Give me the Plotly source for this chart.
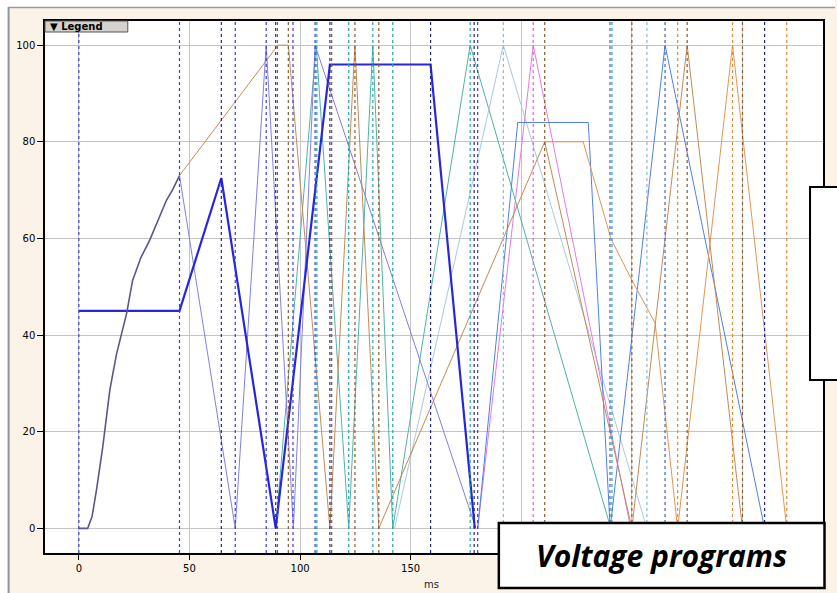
import plotly.graph_objects as go

# ---------------- data ----------------
# measured ramp (0..45.5 ms)
ramp_ms = [0, 4, 6, 8, 10.8, 14, 17, 21.6, 24.3, 28, 32, 36, 39.6, 42.3, 45.5]
ramp_v = [0, 0, 2.5, 8, 16.8, 28.6, 36, 44.5, 51.3, 56, 59.6, 64, 67.9, 70, 73]

# thick blue program
blue_thick_ms = [0, 45.5, 64.4, 89, 113.5, 159, 179]
blue_thick_v = [45, 45, 72.5, 0, 96, 96, 0]

# thin violet-blue program
violet_ms = [45.5, 70.7, 84.7, 97, 106.8, 179.5]
violet_v = [73, 0, 100, 0, 100, 0]

# tan / brown program
brown_ms = [45.5, 90, 94.7, 113.5, 124.8, 135.6, 210.6, 250, 275, 300]
brown_v = [73, 100, 100, 0, 100, 0, 80, 0, 100, 0]

# orange program
orange_ms = [210.6, 228, 240.5, 249.5, 260.5, 270.7, 295.5, 320]
orange_v = [80, 80, 60, 51.8, 42.5, 0, 100, 0]

# teal program
teal_ms = [89, 107.3, 122, 132.9, 141.9, 176.9, 240.5]
teal_v = [0, 100, 0, 100, 0, 100, 0]

# pale blue program
pale_ms = [142.7, 191.9, 256.8]
pale_v = [0, 100, 0]

# magenta program
magenta_ms = [180.3, 205.4, 249.5]
magenta_v = [0, 100, 0]

# medium blue program
mblue_ms = [180.3, 198.4, 230.3, 240.2, 265, 310]
mblue_v = [0, 84, 84, 0, 100, 0]

# dashed event markers (ms) and the program each belongs to
marker_ms = [0, 45.5, 64.4, 70.7, 84.7, 89, 89.8, 94.7, 96.8, 106.8, 107.6,
             113.5, 114.3, 122, 124.8, 132.9, 135.6, 141.9, 159, 176.9,
             178.7, 180.3, 191.9, 205.4, 210.6, 240.1, 241.0, 250, 256.8,
             265, 270.7, 275, 295.5, 300, 310, 320]
marker_prog = ["blue", "blue", "navy", "blue", "blue", "navy", "brown", "brown",
               "blue", "blue", "teal", "navy", "brown", "teal", "brown", "teal",
               "brown", "teal", "navy", "teal", "navy", "blue", "pale", "magenta",
               "brown", "mblue", "teal", "brown", "pale", "mblue", "orange",
               "brown", "orange", "brown", "navy", "orange"]

x_ticks = [0, 50, 100, 150, 200, 250, 300]
x_ticktext = ["0", "50", "100", "150", "", "", ""]  # the rest sit under the caption box
y_ticks = [0, 20, 40, 60, 80, 100]

# ---------------- styles ----------------
marker_colors = {
    "blue": "#3C3CD8", "navy": "#23238F", "brown": "#8A5A30", "teal": "#2A9FB0",
    "pale": "#8DB6D6", "magenta": "#E060D8", "mblue": "#3F63C8", "orange": "#E08A3A",
}

fig = go.Figure()

def add_line(xs, ys, color, width=1.0):
    fig.add_trace(go.Scatter(x=xs, y=ys, mode="lines",
                             line=dict(color=color, width=width),
                             hoverinfo="skip", showlegend=False))

add_line(teal_ms, teal_v, "#4DB3A8")
add_line(pale_ms, pale_v, "#A9C9E2")
add_line(magenta_ms, magenta_v, "#E27BE6")
add_line(mblue_ms, mblue_v, "#4F7FE6")
add_line(orange_ms, orange_v, "#E39552")
add_line(brown_ms, brown_v, "#C28A55")
add_line(violet_ms, violet_v, "#7F7FEA")
add_line(blue_thick_ms, blue_thick_v, "#2626DE", 2.2)
add_line(ramp_ms, ramp_v, "#58588C", 1.6)

shapes = []
for ms, prog in zip(marker_ms, marker_prog):
    shapes.append(dict(type="line", xref="x", yref="paper", x0=ms, x1=ms, y0=0, y1=1,
                       line=dict(color=marker_colors[prog], width=1.2, dash="3px,3px"),
                       layer="above"))

# paper geometry helpers (plot area: x 45..825 px, y 21..553 px)
L, R, T, B = 45, 12, 21, 40
PW, PH = 837 - L - R, 593 - T - B
def px(x):
    return (x - L) / PW
def py(y):
    return (593 - B - y) / PH

shapes += [
    dict(type="rect", xref="paper", yref="paper", x0=px(0), x1=px(8), y0=py(593), y1=py(0),
         fillcolor="white", line=dict(width=0), layer="below"),
    dict(type="rect", xref="paper", yref="paper", x0=px(0), x1=px(837), y0=py(7), y1=py(0),
         fillcolor="white", line=dict(width=0), layer="below"),
    dict(type="line", xref="paper", yref="paper", x0=px(8), x1=px(837), y0=py(7.5), y1=py(7.5),
         line=dict(color="#9A9A9A", width=1.5)),
    dict(type="line", xref="paper", yref="paper", x0=px(8.5), x1=px(8.5), y0=py(7), y1=py(593),
         line=dict(color="#8C96A4", width=2)),
    dict(type="rect", xref="paper", yref="paper", x0=px(45), x1=px(128), y0=py(32), y1=py(21),
         fillcolor="#D5D2CC", line=dict(color="#555555", width=1), layer="above"),
    dict(type="rect", xref="paper", yref="paper", x0=px(812), x1=px(845), y0=py(380), y1=py(187),
         fillcolor="white", line=dict(color="black", width=2), layer="above"),
    dict(type="rect", xref="paper", yref="paper", x0=px(500), x1=px(826.5), y0=py(588), y1=py(523),
         fillcolor="white", line=dict(color="black", width=2.5), layer="above"),
]

annotations = [
    dict(text="<b>▼ Legend</b>", xref="paper", yref="paper", x=px(48), y=py(26.5),
         xanchor="left", yanchor="middle", showarrow=False,
         font=dict(family="DejaVu Sans", size=10, color="black")),
    dict(text="<b><i>Voltage programs</i></b>", xref="paper", yref="paper", x=px(663), y=py(555),
         xanchor="center", yanchor="middle", showarrow=False,
         font=dict(family="Open Sans", size=30, color="black")),
    dict(text="ms", xref="paper", yref="paper", x=px(432), y=py(584),
         xanchor="center", yanchor="middle", showarrow=False,
         font=dict(family="DejaVu Sans", size=10, color="#222222")),
]

fig.update_layout(
    width=837, height=593,
    margin=dict(l=L, r=R, t=T, b=B, pad=0),
    paper_bgcolor="#FBF3E7", plot_bgcolor="white",
    shapes=shapes, annotations=annotations, showlegend=False,
    xaxis=dict(range=[-15.3, 336.4], tickvals=x_ticks, ticktext=x_ticktext,
               showgrid=True, gridcolor="#C4C4C4", gridwidth=1, zeroline=False,
               showline=True, linecolor="black", linewidth=1.5, mirror=True,
               ticks="outside", ticklen=5, tickcolor="black",
               tickfont=dict(family="DejaVu Sans", size=10, color="black")),
    yaxis=dict(range=[-5.1, 105.0], tickvals=y_ticks, ticktext=[str(v) for v in y_ticks],
               showgrid=True, gridcolor="#C4C4C4", gridwidth=1, zeroline=False,
               showline=True, linecolor="black", linewidth=1.5, mirror=True,
               ticks="outside", ticklen=6, tickcolor="black",
               tickfont=dict(family="DejaVu Sans", size=10, color="black")),
)

fig.write_html("out.html")
